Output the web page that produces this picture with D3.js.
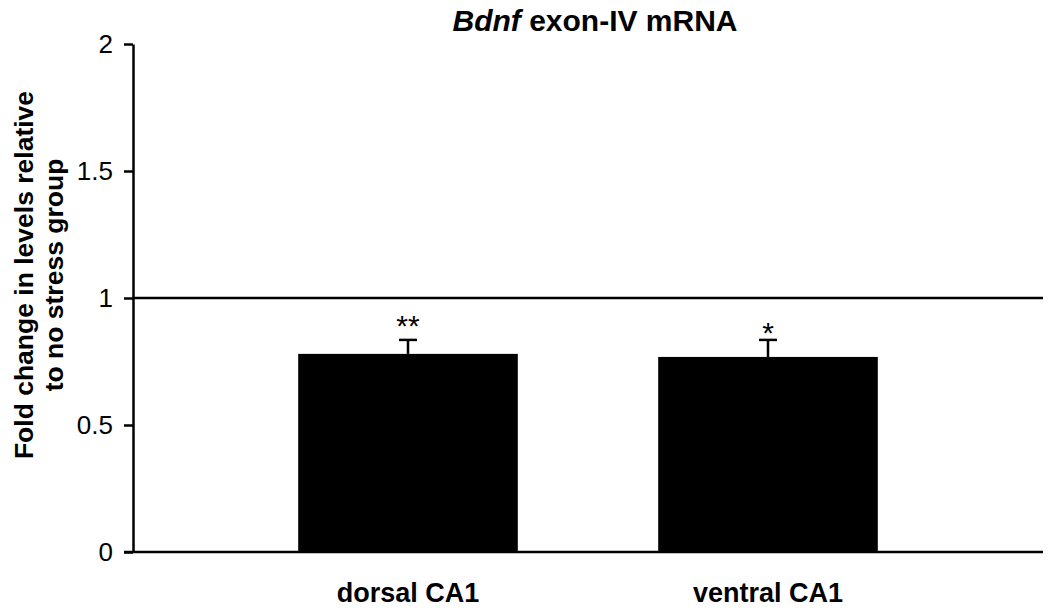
<!DOCTYPE html>
<html>
<head>
<meta charset="utf-8">
<script src="https://cdn.jsdelivr.net/npm/d3@7"></script>
<style>
	body { margin: 0; background: #fff; }
	text { font-family: Arial, "Liberation Sans", sans-serif; fill: #000; }
</style>
</head>
<body>
<div id="chart"></div>
<script>
// chart values
const regions = ["dorsal CA1", "ventral CA1"];
const foldChange = [0.78, 0.768];
const sem = [0.055, 0.067];
const stars = ["**", "*"];
const yTicks = [0, 0.5, 1, 1.5, 2];
const yTickLabels = ["0", "0.5", "1", "1.5", "2"];

const svg = d3.select("#chart")
	.append("svg")
	.attr("width", 1050)
	.attr("height", 612);

const y = d3.scaleLinear()
	.domain([0, 2])
	.range([552, 44]);

const x = d3.scaleBand()
	.domain(regions)
	.range([228, 948])
	.paddingInner(0.39)
	.paddingOuter(0.195);

// y axis
const yAxis = svg.append("g")
	.attr("transform", "translate(133,0)")
	.call(d3.axisLeft(y)
		.tickValues(yTicks)
		.tickFormat((d, i) => yTickLabels[i])
		.tickSize(9)
		.tickSizeOuter(0));

yAxis.select(".domain").attr("stroke", "#000").attr("stroke-width", 2.5);
yAxis.selectAll(".tick line").attr("stroke", "#000").attr("stroke-width", 2.5);
yAxis.selectAll(".tick text")
	.attr("x", -20)
	.attr("font-size", 26)
	.attr("font-family", "Arial, 'Liberation Sans', sans-serif")
	.attr("fill", "#000");

// baseline and reference line at 1
svg.append("line")
	.attr("x1", 124).attr("x2", 1043)
	.attr("y1", y(0)).attr("y2", y(0))
	.attr("stroke", "#000").attr("stroke-width", 2.5);

svg.append("line")
	.attr("x1", 133).attr("x2", 1043)
	.attr("y1", y(1)).attr("y2", y(1))
	.attr("stroke", "#000").attr("stroke-width", 2.5);

// bars
svg.selectAll("rect.bar")
	.data(regions)
	.enter()
	.append("rect")
	.attr("class", "bar")
	.attr("x", (d) => x(d))
	.attr("width", x.bandwidth())
	.attr("y", (d, i) => y(foldChange[i]))
	.attr("height", (d, i) => y(0) - y(foldChange[i]))
	.attr("fill", "#000");

// error bars (upper only)
const err = svg.append("g");
regions.forEach((r, i) => {
	const cx = x(r) + x.bandwidth() / 2;
	err.append("line")
		.attr("x1", cx).attr("x2", cx)
		.attr("y1", y(foldChange[i])).attr("y2", y(foldChange[i] + sem[i]))
		.attr("stroke", "#000").attr("stroke-width", 2.5);
	err.append("line")
		.attr("x1", cx - 9).attr("x2", cx + 9)
		.attr("y1", y(foldChange[i] + sem[i])).attr("y2", y(foldChange[i] + sem[i]))
		.attr("stroke", "#000").attr("stroke-width", 2.5);
	svg.append("text")
		.attr("x", cx)
		.attr("y", y(foldChange[i] + sem[i]) - (i === 0 ? 4 : -3))
		.attr("text-anchor", "middle")
		.attr("font-size", 30)
		.text(stars[i]);
});

// x labels
svg.selectAll("text.xlab")
	.data(regions)
	.enter()
	.append("text")
	.attr("class", "xlab")
	.attr("x", (d) => x(d) + x.bandwidth() / 2)
	.attr("y", 602)
	.attr("text-anchor", "middle")
	.attr("font-size", 27)
	.attr("font-weight", "bold")
	.text((d) => d);

// title
const title = svg.append("text")
	.attr("x", 595)
	.attr("y", 31)
	.attr("text-anchor", "middle")
	.attr("font-size", 30)
	.attr("font-weight", "bold");
title.append("tspan").attr("font-style", "italic").text("Bdnf");
title.append("tspan").text(" exon-IV mRNA");

// y label
const ylab = svg.append("text")
	.attr("transform", "translate(0,275) rotate(-90)")
	.attr("text-anchor", "middle")
	.attr("font-size", 26.5)
	.attr("font-weight", "bold");
ylab.append("tspan").attr("x", 0).attr("y", 33).text("Fold change in levels relative");
ylab.append("tspan").attr("x", 0).attr("y", 63).text("to no stress group");
</script>
</body>
</html>
